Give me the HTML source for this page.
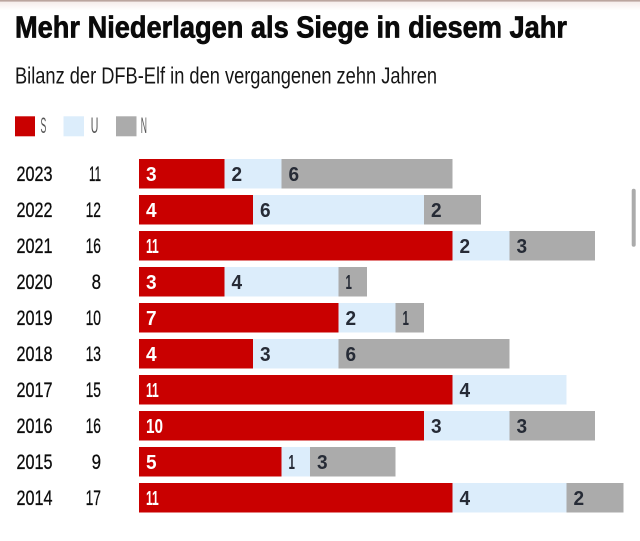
<!DOCTYPE html>
<html>
<head>
<meta charset="utf-8">
<style>
  html, body { margin: 0; padding: 0; background: #ffffff; }
  body { width: 640px; height: 541px; overflow: hidden; }
  svg { display: block; }
  text { font-family: "Liberation Sans", "DejaVu Sans", sans-serif; }
</style>
</head>
<body>
<svg width="640" height="541" viewBox="0 0 640 541" xmlns="http://www.w3.org/2000/svg">
  <defs>
    <linearGradient id="topfade" x1="0" y1="0" x2="0" y2="1">
      <stop offset="0" stop-color="#f5ecea"/>
      <stop offset="1" stop-color="#ffffff"/>
    </linearGradient>
  </defs>
  <rect x="0" y="0" width="640" height="541" fill="#ffffff"/>
  <rect x="0" y="1.5" width="640" height="9" fill="url(#topfade)"/>
  <rect x="0" y="0" width="640" height="1.6" fill="#bba59e"/>

  <!-- Title -->
  <text x="15" y="37.5" font-size="31" font-weight="bold" fill="#0a0a0a" stroke="#0a0a0a" stroke-width="0.7" textLength="552" lengthAdjust="spacingAndGlyphs">Mehr Niederlagen als Siege in diesem Jahr</text>
  <!-- Subtitle -->
  <text x="15" y="83.5" font-size="23" fill="#151515" textLength="422" lengthAdjust="spacingAndGlyphs">Bilanz der DFB-Elf in den vergangenen zehn Jahren</text>

  <!-- Legend -->
  <rect x="15" y="116.3" width="20" height="20" fill="#c90000"/>
  <text x="40.5" y="133" font-size="22" fill="#555555" textLength="5.8" lengthAdjust="spacingAndGlyphs">S</text>
  <rect x="63.5" y="116.3" width="20.5" height="20" fill="#dcedfb"/>
  <text x="90.8" y="133" font-size="22" fill="#555555" textLength="7.6" lengthAdjust="spacingAndGlyphs">U</text>
  <rect x="116" y="116.3" width="20.5" height="20" fill="#ababab"/>
  <text x="140.8" y="133" font-size="22" fill="#555555" textLength="6.2" lengthAdjust="spacingAndGlyphs">N</text>

  <!-- Scrollbar -->
  <rect x="631.7" y="188.7" width="4" height="58" rx="2" fill="#ababab"/>

  <g id="rows"></g>
</svg>
<script>
(function(){
  var data = [
    ["2023",3,2,6],["2022",4,6,2],["2021",11,2,3],["2020",3,4,1],["2019",7,2,1],
    ["2018",4,3,6],["2017",11,4,0],["2016",10,3,3],["2015",5,1,3],["2014",11,4,2]
  ];
  var NS = "http://www.w3.org/2000/svg";
  var g = document.getElementById("rows");
  var x0 = 139, unit = 28.5, h = 29.5;
  var colors = ["#c90000","#dcedfb","#ababab"];
  var tcolors = ["#ffffff","#262b36","#262b36"];
  function el(name, attrs, txt){
    var e = document.createElementNS(NS, name);
    for (var k in attrs) e.setAttribute(k, attrs[k]);
    if (txt !== undefined) e.textContent = txt;
    g.appendChild(e);
    return e;
  }
  function regW(s){ var w=0; for (var i=0;i<s.length;i++) w += (s[i]==="1") ? 6 : 9.4; return w; }
  function boldW(s){ var w=0; for (var i=0;i<s.length;i++) w += (s[i]==="1") ? 6.4 : 10.6; return w; }
  for (var i=0;i<data.length;i++){
    var d = data[i];
    var top = 159 + 36*i;
    var base = top + 22;
    var total = d[1]+d[2]+d[3];
    el("text", {x:16.5, y:base, "font-size":21, fill:"#0d0d0d", stroke:"#0d0d0d", "stroke-width":0.3, textLength:36, lengthAdjust:"spacingAndGlyphs"}, d[0]);
    var ts = String(total);
    el("text", {x:101, y:base, "font-size":21, fill:"#0d0d0d", stroke:"#0d0d0d", "stroke-width":0.3, "text-anchor":"end", textLength:regW(ts).toFixed(1), lengthAdjust:"spacingAndGlyphs"}, ts);
    var x = x0;
    for (var j=0;j<3;j++){
      var v = d[j+1];
      if (!v) continue;
      var w = v*unit;
      el("rect", {x:x, y:top, width:w, height:h, fill:colors[j]});
      var s = String(v);
      el("text", {x:x+7, y:base, "font-size":20, "font-weight":"bold", fill:tcolors[j], textLength:boldW(s).toFixed(1), lengthAdjust:"spacingAndGlyphs"}, s);
      x += w;
    }
  }
})();
</script>
</body>
</html>
